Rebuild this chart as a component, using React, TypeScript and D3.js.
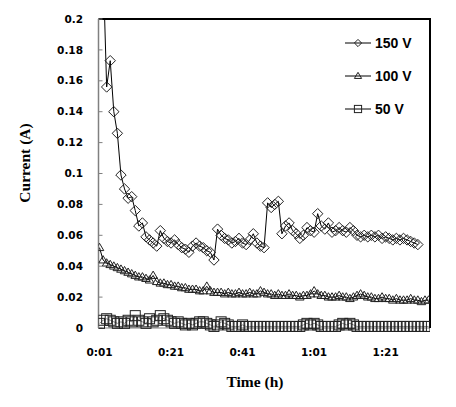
import React from "react";
import * as d3 from "d3";

// Time in minutes since 0:00; one reading per minute
const t150Start = 2;
const current150V = [
  0.235, 0.156, 0.173, 0.140, 0.126, 0.099, 0.090, 0.084, 0.085, 0.076,
  0.066, 0.068, 0.059, 0.057, 0.055, 0.053, 0.063, 0.058, 0.056, 0.055,
  0.057, 0.054, 0.052, 0.051, 0.049, 0.053, 0.055, 0.053, 0.052, 0.050,
  0.049, 0.044, 0.064, 0.060, 0.058, 0.057, 0.055, 0.056, 0.058, 0.055,
  0.054, 0.057, 0.061, 0.055, 0.053, 0.052, 0.081, 0.078, 0.080, 0.082,
  0.061, 0.066, 0.068, 0.063, 0.061, 0.058, 0.060, 0.065, 0.063, 0.062,
  0.074, 0.066, 0.064, 0.068, 0.062, 0.063, 0.065, 0.063, 0.062, 0.065,
  0.063, 0.060, 0.059, 0.060, 0.059, 0.060, 0.059, 0.060, 0.058, 0.059,
  0.058, 0.057, 0.058, 0.057, 0.058, 0.057, 0.056, 0.055, 0.054,
];
const t100Start = 1;
const current100V = [
  0.052, 0.044, 0.042, 0.041, 0.040, 0.039, 0.038, 0.037, 0.036, 0.035,
  0.034, 0.033, 0.033, 0.032, 0.031, 0.034, 0.030, 0.029, 0.029, 0.028,
  0.028, 0.027, 0.027, 0.026, 0.026, 0.025, 0.025, 0.025, 0.024, 0.024,
  0.027, 0.024, 0.023, 0.023, 0.023, 0.022, 0.023, 0.022, 0.022, 0.023,
  0.022, 0.022, 0.023, 0.022, 0.022, 0.024, 0.023, 0.022, 0.022, 0.021,
  0.022, 0.021, 0.021, 0.022, 0.021, 0.021, 0.020, 0.021, 0.021, 0.022,
  0.024, 0.022, 0.021, 0.021, 0.020, 0.020, 0.020, 0.021, 0.020, 0.020,
  0.019, 0.020, 0.021, 0.022, 0.021, 0.020, 0.020, 0.019, 0.019, 0.020,
  0.019, 0.019, 0.018, 0.019, 0.018, 0.018, 0.018, 0.019, 0.018, 0.018,
  0.017, 0.018, 0.018,
];
const t50Start = 1;
const current50V = [
  0.003, 0.005, 0.006, 0.005, 0.004, 0.003, 0.004, 0.003, 0.005, 0.004,
  0.008, 0.005, 0.004, 0.003, 0.006, 0.004, 0.005, 0.008, 0.006, 0.005,
  0.004, 0.003, 0.004, 0.003, 0.002, 0.003, 0.002, 0.003, 0.004, 0.004,
  0.003, 0.002, 0.001, 0.002, 0.004, 0.003, 0.002, 0.001, 0.001, 0.001,
  0.002, 0.001, 0.001, 0.001, 0.001, 0.001, 0.001, 0.001, 0.001, 0.001,
  0.001, 0.001, 0.001, 0.001, 0.001, 0.001, 0.001, 0.002, 0.003, 0.002,
  0.003, 0.002, 0.001, 0.001, 0.001, 0.001, 0.001, 0.002, 0.003, 0.002,
  0.003, 0.002, 0.001, 0.001, 0.001, 0.001, 0.001, 0.001, 0.001, 0.001,
  0.001, 0.001, 0.001, 0.001, 0.001, 0.001, 0.001, 0.001, 0.001, 0.001,
  0.001, 0.001, 0.001,
];
const yTicks = [0, 0.02, 0.04, 0.06, 0.08, 0.1, 0.12, 0.14, 0.16, 0.18, 0.2];
const xTicks = [1, 21, 41, 61, 81];
const legendLabels = ["150 V", "100 V", "50 V"];

const W = 456;
const H = 407;
const plot = { left: 98.5, right: 430, top: 19, bottom: 328 };

type Pt = { t: number; v: number };
const toPts = (start: number, arr: number[]): Pt[] =>
  arr.map((v, i) => ({ t: start + i, v }));

const fmtTime = (m: number) => {
  const h = Math.floor(m / 60);
  const mm = m % 60;
  return `${h}:${mm < 10 ? "0" : ""}${mm}`;
};

function Marker({ kind, x, y, s }: { kind: string; x: number; y: number; s: number }) {
  const common = { fill: "none", stroke: "#222", strokeWidth: 1 };
  if (kind === "diamond") {
    return <path d={`M${x},${y - s}L${x + s},${y}L${x},${y + s}L${x - s},${y}Z`} {...common} />;
  }
  if (kind === "triangle") {
    const h = s * 1.7;
    return (
      <path
        d={`M${x},${y - h * 0.6}L${x + s},${y + h * 0.4}L${x - s},${y + h * 0.4}Z`}
        {...common}
      />
    );
  }
  return <rect x={x - s} y={y - s} width={2 * s} height={2 * s} {...common} />;
}

export default function App() {
  const x = d3.scaleLinear().domain([1, 93.4]).range([plot.left + 1, plot.right]);
  const y = d3.scaleLinear().domain([0, 0.2]).range([plot.bottom, plot.top]);
  const line = d3
    .line<Pt>()
    .x((d) => x(d.t))
    .y((d) => y(d.v));

  const series = [
    { kind: "diamond", pts: toPts(t150Start, current150V), s: 5.2, stroke: "#000" },
    { kind: "triangle", pts: toPts(t100Start, current100V), s: 4.3, stroke: "#000" },
    { kind: "square", pts: toPts(t50Start, current50V), s: 5, stroke: "#888" },
  ];

  return (
    <svg
      width={W}
      height={H}
      style={{ position: "absolute", left: 0, top: 0, background: "#fff" }}
    >
      <defs>
        <clipPath id="plotclip">
          <rect
            x={plot.left}
            y={plot.top}
            width={plot.right - plot.left}
            height={plot.bottom - plot.top + 8}
          />
        </clipPath>
      </defs>

      {/* axes frame */}
      <line x1={plot.left} x2={plot.right} y1={plot.bottom} y2={plot.bottom} stroke="#808080" strokeWidth={1} />
      <line x1={plot.left} x2={plot.right + 1} y1={plot.top} y2={plot.top} stroke="#000" strokeWidth={2} />
      <line x1={plot.right} x2={plot.right} y1={plot.top} y2={plot.bottom} stroke="#000" strokeWidth={2} />
      <line x1={plot.left} x2={plot.left} y1={plot.top} y2={plot.bottom} stroke="#808080" strokeWidth={1.5} />
      {yTicks.map((v) => (
        <g key={v}>
          <line x1={plot.left} x2={plot.left + 4} y1={y(v)} y2={y(v)} stroke="#808080" strokeWidth={1} />
          <text
            x={83}
            y={y(v)}
            dy="0.35em"
            textAnchor="end"
            fontFamily="DejaVu Sans, Verdana, sans-serif"
            fontWeight="bold"
            fontSize={10.5}
            fill="#000"
          >
            {String(v)}
          </text>
        </g>
      ))}
      {xTicks.map((m) => (
        <text
          key={m}
          x={x(m)}
          y={352}
          dy="0.35em"
          textAnchor="middle"
          fontFamily="DejaVu Sans, Verdana, sans-serif"
          fontWeight="bold"
          fontSize={10.5}
          fill="#000"
        >
          {fmtTime(m)}
        </text>
      ))}

      {/* series */}
      <g clipPath="url(#plotclip)">
        {series
          .slice()
          .reverse()
          .map((s) => (
            <g key={s.kind}>
              <path d={line(s.pts) || ""} fill="none" stroke={s.stroke} strokeWidth={1} />
              {s.pts.map((p, i) => (
                <Marker key={i} kind={s.kind} x={x(p.t)} y={y(p.v)} s={s.s} />
              ))}
            </g>
          ))}
      </g>

      {/* legend */}
      {legendLabels.map((lab, i) => {
        const ly = 43 + i * 33;
        const kind = series[i].kind;
        return (
          <g key={lab}>
            <line x1={345} x2={371} y1={ly} y2={ly} stroke="#000" strokeWidth={1} />
            <Marker kind={kind} x={358} y={ly} s={3.6} />
            <text
              x={375}
              y={ly}
              dy="0.36em"
              fontFamily="Liberation Sans, Arial, sans-serif"
              fontWeight="bold"
              fontSize={14}
              fill="#000"
            >
              {lab}
            </text>
          </g>
        );
      })}

      {/* axis titles */}
      <text
        transform={`translate(30,${163}) rotate(-90)`}
        textAnchor="middle"
        fontFamily="Liberation Serif, Times New Roman, serif"
        fontWeight="bold"
        fontSize={15.5}
        fill="#000"
      >
        Current (A)
      </text>
      <text
        x={255}
        y={387}
        textAnchor="middle"
        fontFamily="Liberation Serif, Times New Roman, serif"
        fontWeight="bold"
        fontSize={15.5}
        fill="#000"
      >
        Time (h)
      </text>
    </svg>
  );
}
